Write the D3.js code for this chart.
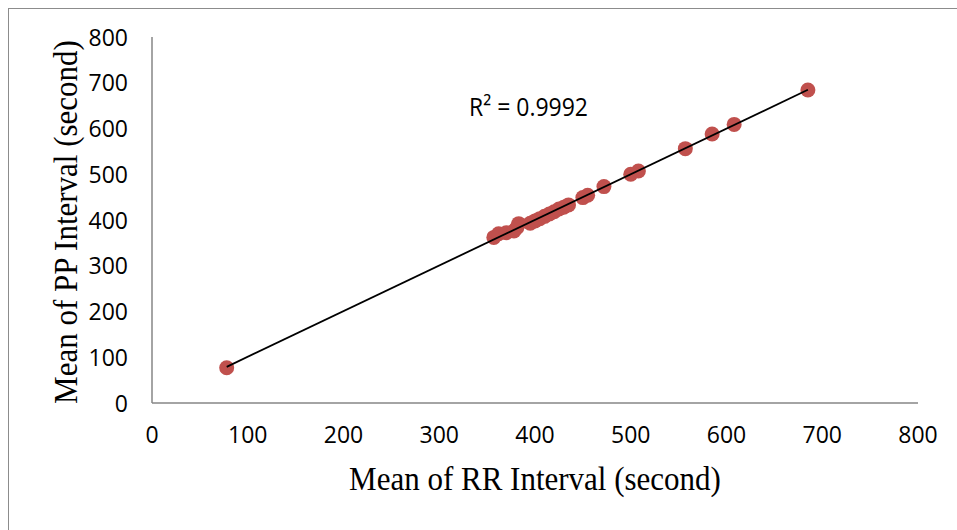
<!DOCTYPE html>
<html>
<head>
<meta charset="utf-8">
<script src="https://cdn.jsdelivr.net/npm/d3@7"></script>
<style>
  body { margin: 0; background: #fff; }
  svg { display: block; }
</style>
</head>
<body>
<svg id="chart"></svg>
<script>
// data
const rrMean = [78, 357, 362, 370, 378, 381, 383, 395, 400, 405, 410, 415, 420, 425, 430, 435, 450, 455, 472, 500, 508, 557, 585, 608, 685];
const ppMean = [77, 362, 370, 372, 376, 383, 392, 393, 398, 403, 408, 413, 418, 424, 428, 433, 449, 454, 473, 500, 507, 556, 588, 609, 684];
const xTicks = [0, 100, 200, 300, 400, 500, 600, 700, 800];
const yTicks = [0, 100, 200, 300, 400, 500, 600, 700, 800];
const rSquaredLabel = "R\u00B2 = 0.9992";

const width = 957, height = 530;
const svg = d3.select("#chart").attr("width", width).attr("height", height);

// outer frame
svg.append("rect")
    .attr("x", 8.5).attr("y", 8.5)
    .attr("width", 960).attr("height", 540)
    .attr("fill", "none")
    .attr("stroke", "#8c8c8c");

const x = d3.scaleLinear().domain([0, 800]).range([152, 918]);
const y = d3.scaleLinear().domain([0, 800]).range([403, 37]);

// axes lines
svg.append("line")
    .attr("x1", x(0)).attr("x2", x(0))
    .attr("y1", y(800)).attr("y2", y(0))
    .attr("stroke", "#868686").attr("stroke-width", 1.5);
svg.append("line")
    .attr("x1", x(0)).attr("x2", x(800))
    .attr("y1", y(0)).attr("y2", y(0))
    .attr("stroke", "#868686").attr("stroke-width", 1.5);

const tickFont = "'Open Sans', sans-serif";
const serifFont = "'Liberation Serif', 'Times New Roman', serif";
const sy = 1.1; // text in the picture is a bit taller than wide

// x tick labels
svg.selectAll(".xt")
    .data(xTicks)
    .enter().append("text")
    .attr("class", "xt")
    .attr("transform", d => `translate(${x(d)},443) scale(1,1.05)`)
    .attr("text-anchor", "middle")
    .style("font-family", tickFont)
    .style("font-size", "23px")
    .style("fill", "#000")
    .text(d => d);

// y tick labels
svg.selectAll(".yt")
    .data(yTicks)
    .enter().append("text")
    .attr("class", "yt")
    .attr("transform", d => `translate(128,${y(d) + 8.5}) scale(1,1.05)`)
    .attr("text-anchor", "end")
    .style("font-family", tickFont)
    .style("font-size", "23px")
    .style("fill", "#000")
    .text(d => d);

// linear trend line (least squares)
const pts = rrMean.map((v, i) => [v, ppMean[i]]);
const mx = d3.mean(rrMean), my = d3.mean(ppMean);
const slope = d3.sum(pts, p => (p[0] - mx) * (p[1] - my)) / d3.sum(pts, p => (p[0] - mx) ** 2);
const intercept = my - slope * mx;
const [xmin, xmax] = d3.extent(rrMean);

// markers
svg.selectAll("circle")
    .data(pts)
    .enter().append("circle")
    .attr("cx", d => x(d[0]))
    .attr("cy", d => y(d[1]))
    .attr("r", 7.5)
    .style("fill", "#c0504d");

svg.append("line")
    .attr("x1", x(xmin)).attr("y1", y(intercept + slope * xmin))
    .attr("x2", x(xmax)).attr("y2", y(intercept + slope * xmax))
    .attr("stroke", "#000")
    .attr("stroke-width", 1.8);

svg.append("text")
    .attr("transform", `translate(469,116) scale(1,${sy})`)
    .style("font-family", tickFont)
    .style("font-size", "23px")
    .text(rSquaredLabel);

// axis titles
svg.append("text")
    .attr("transform", `translate(535,490) scale(1,${sy})`)
    .attr("text-anchor", "middle")
    .style("font-family", serifFont)
    .style("font-size", "31px")
    .text("Mean of RR Interval (second)");

svg.append("text")
    .attr("transform", `translate(77,222) rotate(-90) scale(1,${sy})`)
    .attr("text-anchor", "middle")
    .style("font-family", serifFont)
    .style("font-size", "31px")
    .text("Mean of PP Interval (second)");
</script>
</body>
</html>
